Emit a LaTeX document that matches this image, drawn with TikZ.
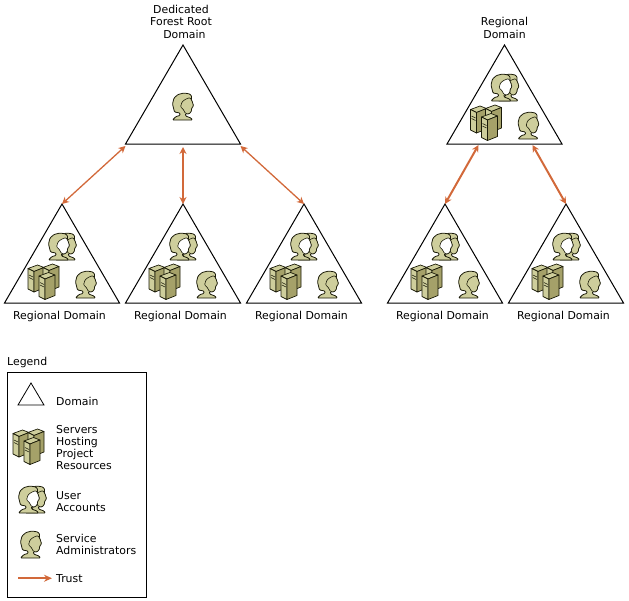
\documentclass[tikz,border=0pt]{standalone}
\usepackage{fontspec}
\setmainfont{DejaVu Sans}
\usetikzlibrary{shapes.geometric, arrows.meta, positioning, calc}
\definecolor{icon-khaki}{HTML}{CECE9C}
\definecolor{icon-olive}{HTML}{A5A169}
\definecolor{icon-line}{HTML}{1A1A08}
\definecolor{trust-orange}{HTML}{D2693A}

\tikzset{
    pics/head/.style={code={
        \filldraw[icon-line, fill=icon-khaki, line width=0.8pt, rounded corners=1pt]
            (0.5,27) -- (4,23.5) -- (8,22.5) -- (8,20) -- (2.5,19) -- (0.5,11) -- (2,5) -- (6,1.5)
            -- (12,0) -- (18,1) -- (20,4) -- (19,6) -- (20,8) -- (21.5,13) -- (19.5,15)
            -- (19.5,18) -- (17,21) -- (13.5,20.5) -- (13.5,23) -- (19,25) -- (20.5,27) -- cycle;
        \filldraw[icon-line, fill=#1, line width=0.6pt, rounded corners=1pt]
            (18,4.5) -- (20,8) -- (21.5,13) -- (19.5,15) -- (19.5,18) -- (17,21) -- (13.5,20.5)
            -- (11,16) -- (8.5,14) -- (10,9) -- (13,6.5) -- cycle;
    }},
    pics/tower/.style={code={
        \filldraw[icon-line, fill=icon-khaki, line width=0.7pt, line join=round]
            (0,3.5) -- (9.5,0) -- (16,2.5) -- (6,6.5) -- cycle;
        \filldraw[icon-line, fill=icon-khaki, line width=0.7pt, line join=round]
            (0,3.5) -- (6,6.5) -- (6,27) -- (0,24) -- cycle;
        \filldraw[icon-line, fill=icon-olive, line width=0.7pt, line join=round]
            (6,6.5) -- (16,2.5) -- (16,23) -- (6,27) -- cycle;
        \draw[icon-line, line width=0.5pt] (1,10) -- (5,12) (1,12.5) -- (5,14.5);
    }},
    pics/servers/.style={code={
        \pic at (0,1) {tower};
        \pic at (15,0) {tower};
        \pic at (11,8.5) {tower};
    }},
    pics/users/.style={code={
        \pic at (7,0) {head=icon-khaki};
        \pic at (0,0) {head=white};
    }}
}

\begin{document}
\begin{tikzpicture}[
    x=1pt, y=-1pt,
    font=\fontsize{10.9}{12}\selectfont,
    domaintri/.style={draw=black, line width=1pt, isosceles triangle, isosceles triangle stretches, shape border rotate=90, minimum width=115pt, minimum height=99pt, inner sep=0pt, outer sep=0pt, anchor=apex},
    legendtri/.style={domaintri, line width=0.8pt, minimum width=26pt, minimum height=22pt},
    caption/.style={inner sep=0pt, align=center},
    legendtext/.style={inner sep=0pt, align=left, anchor=north west},
    trust/.style={{Stealth[length=7pt, width=7pt]}-{Stealth[length=7pt, width=7pt]}, line width=1.3pt, trust-orange},
    trustbold/.style={trust, line width=2pt},
    trustkey/.style={-{Stealth[length=8pt, width=7pt]}, line width=2pt, trust-orange}
]
    \useasboundingbox (0,0) rectangle (629,600);

    \node[domaintri] (forestroot) at (183,45) {};
    \node[domaintri] (regionroot) at (504.5,45) {};
    \node[domaintri] (regionA) at (62,204) {};
    \node[domaintri] (regionB) at (183,204) {};
    \node[domaintri] (regionC) at (304,204) {};
    \node[domaintri] (regionD) at (445,204) {};
    \node[domaintri] (regionE) at (566,204) {};

    \pic at ($(forestroot.apex)+(-11,48)$) {head=icon-khaki};
    \foreach \dom in {regionroot, regionA, regionB, regionC, regionD, regionE} {
        \pic at ($(\dom.apex)+(-14,29)$) {users};
        \pic at ($(\dom.apex)+(-34,60)$) {servers};
        \pic at ($(\dom.apex)+(13,67)$) {head=icon-khaki};
    }

    \node[caption, above=6.5pt of forestroot.apex, xshift=-2pt] (forestcap) {Dedicated\\[0.5pt]Forest Root\\[0.5pt]\ \ Domain};
    \node[caption, above=6.5pt of regionroot.apex] (regioncap) {Regional\\[0.5pt]Domain};
    \foreach \dom in {regionA, regionB, regionC, regionD, regionE} {
        \node[caption, below=8pt of \dom.lower side, xshift=-2.5pt] (\dom cap) {Regional Domain};
    }

    \draw[trust] ([yshift=-2pt]forestroot.left corner) -- (regionA.apex);
    \draw[trust] ([yshift=-3pt]forestroot.lower side) -- (regionB.apex);
    \draw[trust] ([yshift=-2pt]forestroot.right corner) -- (regionC.apex);
    \draw[trustbold] ([xshift=-26pt, yshift=-1pt]regionroot.lower side) -- (regionD.apex);
    \draw[trustbold] ([xshift=28pt, yshift=-1pt]regionroot.lower side) -- (regionE.apex);

    % legend
    \node[legendtext] (legendcap) at (7,357) {Legend};
    \node[draw=black, line width=1pt, minimum width=139.5pt, minimum height=225pt, inner sep=0pt, anchor=north west] (legendbox) at (6.5,372) {};
    \node[legendtri] (keydomain) at (31,383) {};
    \node[legendtext] (keydomaintxt) at (56,397) {Domain};
    \pic at (13,429) {servers};
    \node[legendtext] (keyservers) at (56,425) {Servers\\Hosting\\Project\\Resources};
    \pic at (18,486) {users};
    \node[legendtext] (keyusers) at (56,491) {User\\Accounts};
    \pic at (20,531) {head=icon-khaki};
    \node[legendtext] (keyadmins) at (56,534) {Service\\Administrators};
    \node[legendtext] (keytrust) at (56,574) {Trust};
    \coordinate (keytrustend) at ($(keytrust.west)+(-38,0)$);
    \draw[trustkey, shorten >=4pt] (keytrustend) -- (keytrust.west);
\end{tikzpicture}
\end{document}
